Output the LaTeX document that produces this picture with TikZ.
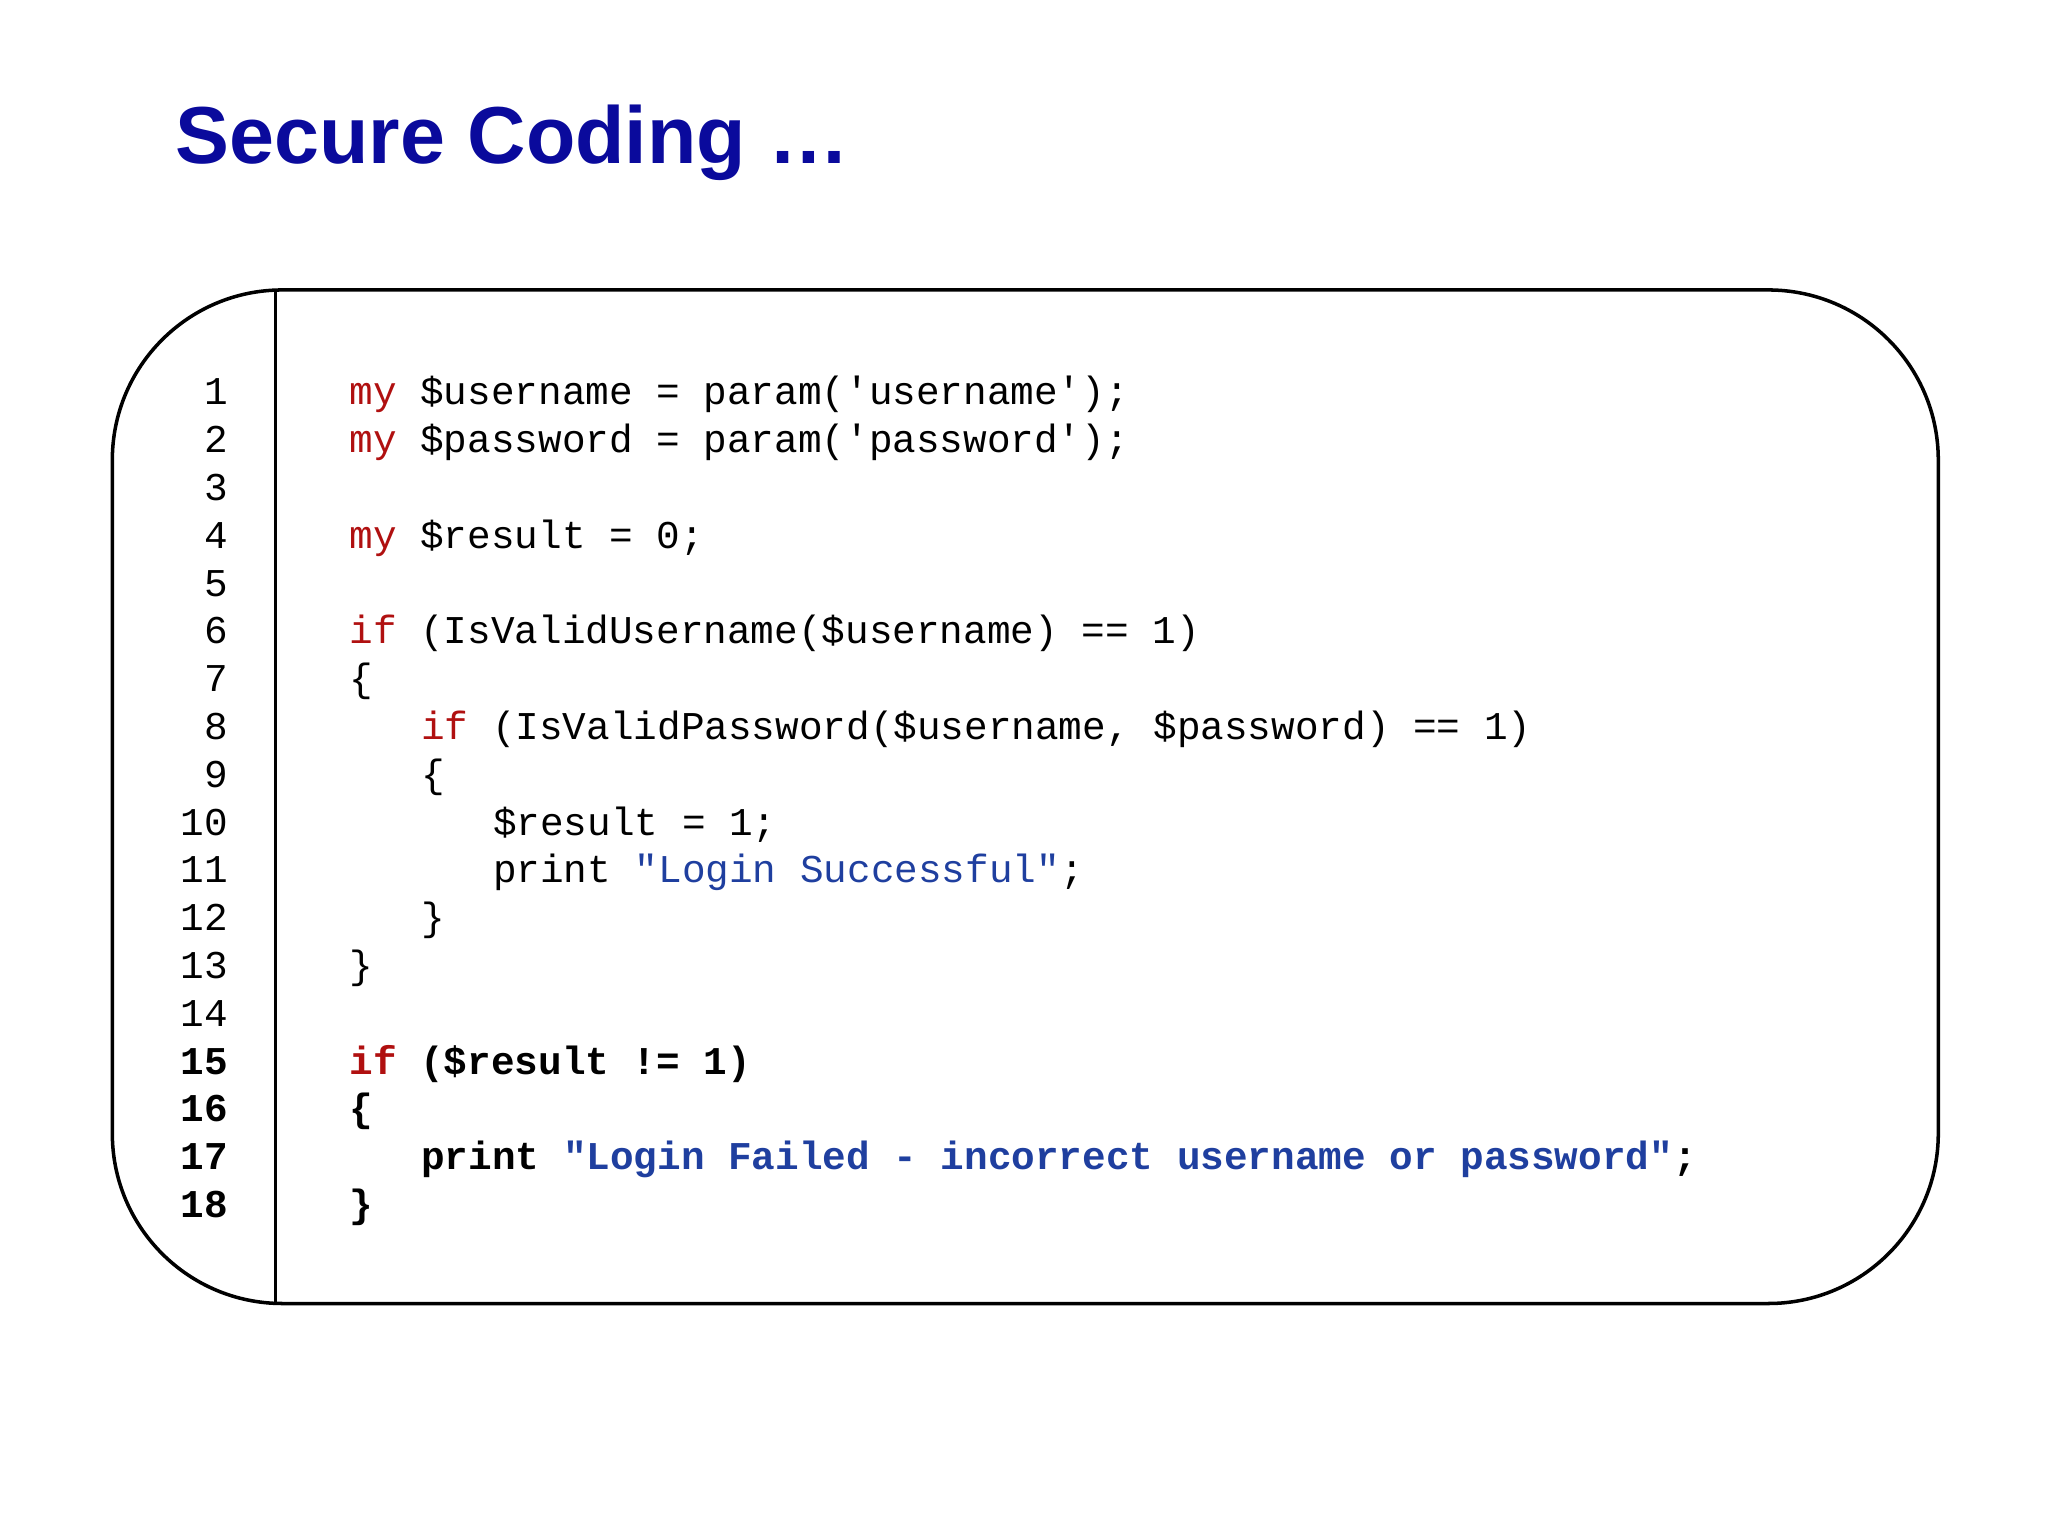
\documentclass[tikz,border=0pt]{standalone}
\usepackage{fontspec}
\setmainfont{Liberation Sans}
\setmonofont{Liberation Mono}
\definecolor{kw}{HTML}{B01010}
\definecolor{str}{HTML}{1F3F9F}
\definecolor{ttl}{HTML}{0A0A9C}
\begin{document}
\begin{tikzpicture}[x=0.013061cm,y=-0.013061cm,
  code/.style={anchor=base west,inner sep=0,font=\fontsize{11.2}{13}\ttfamily},
  num/.style={anchor=base east,inner sep=0,font=\fontsize{11.2}{13}\ttfamily}]
\useasboundingbox (0,0) rectangle (1568,1176);
\node[anchor=base west,inner sep=0,text=ttl,font=\fontsize{23}{28}\bfseries\rmfamily] (title) at (134,125) {Secure Coding …};
\draw[line width=1pt,rounded corners=1.7cm] (86,222) rectangle (1484,998);
\draw[line width=1pt] (211,222) -- (211,998);
\newcommand\yy[1]{299+11+(#1-1)*36.6}
\foreach \i in {1,...,14}{\node[num] (n\i) at (175,{\yy{\i}}) {\i};}
\foreach \i in {15,...,18}{\node[num,font=\fontsize{11.2}{13}\ttfamily\bfseries] (n\i) at (175,{\yy{\i}}) {\i};}
\node[code] (c1) at (267,{\yy{1}}) {\textcolor{kw}{my} \$username = param('username');};
\node[code] (c2) at (267,{\yy{2}}) {\textcolor{kw}{my} \$password = param('password');};
\node[code] (c4) at (267,{\yy{4}}) {\textcolor{kw}{my} \$result = 0;};
\node[code] (c6) at (267,{\yy{6}}) {\textcolor{kw}{if} (IsValidUsername(\$username) == 1)};
\node[code] (c7) at (267,{\yy{7}}) {\{};
\node[code] (c8) at (322,{\yy{8}}) {\textcolor{kw}{if} (IsValidPassword(\$username, \$password) == 1)};
\node[code] (c9) at (322,{\yy{9}}) {\{};
\node[code] (c10) at (377,{\yy{10}}) {\$result = 1;};
\node[code] (c11) at (377,{\yy{11}}) {print \textcolor{str}{"Login Successful"};};
\node[code] (c12) at (322,{\yy{12}}) {\}};
\node[code] (c13) at (267,{\yy{13}}) {\}};
\begin{scope}[code/.append style={font=\fontsize{11.2}{13}\ttfamily\bfseries}]
\node[code] (c15) at (267,{\yy{15}}) {\textcolor{kw}{if} (\$result != 1)};
\node[code] (c16) at (267,{\yy{16}}) {\{};
\node[code] (c17) at (322,{\yy{17}}) {print \textcolor{str}{"Login Failed - incorrect username or password"};};
\node[code] (c18) at (267,{\yy{18}}) {\}};
\end{scope}
\end{tikzpicture}
\end{document}
